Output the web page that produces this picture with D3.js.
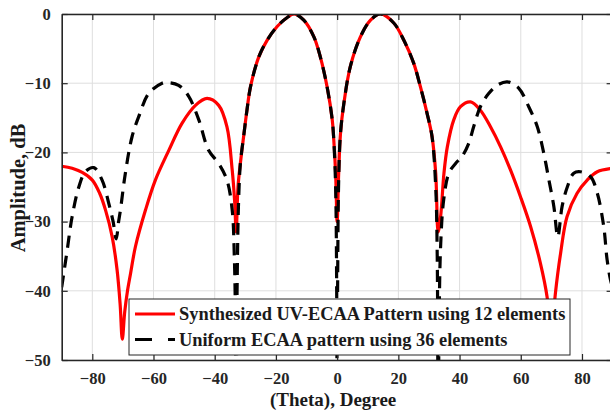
<!DOCTYPE html>
<html>
<head>
<meta charset="utf-8">
<script src="https://cdn.jsdelivr.net/npm/d3@7"></script>
<style>
  html, body { margin: 0; padding: 0; background: #fff; overflow: hidden; }
  svg { display: block; }
  text { font-family: "Liberation Serif", "Times New Roman", serif; font-weight: bold; }
</style>
</head>
<body>
<svg id="chart"></svg>
<script>
// tick values
const xTicks = [-80, -60, -40, -20, 0, 20, 40, 60, 80];
const yTicks = [0, -10, -20, -30, -40, -50];

// Synthesized UV-ECAA pattern, 12 elements: [theta, dB]
const synthesized = [
  [-90, -22.0], [-86.6, -22.3], [-83.3, -22.9], [-80, -24.0], [-77.6, -25.9], [-75.7, -28.3],
  [-73.5, -32.2], [-71.9, -37], [-70.9, -42], [-70.2, -47], [-69.4, -43], [-68.5, -40],
  [-67.5, -37.5], [-65.9, -33.6], [-62.6, -28.3], [-59.4, -24], [-55, -19.7], [-50.7, -15.8],
  [-46.3, -13.2], [-42.5, -12.2], [-38.7, -13.2], [-36, -16.3], [-34.3, -22.5], [-33.5, -27],
  [-33, -31.5], [-32.4, -25], [-31.6, -21.5], [-30.5, -17.5], [-29.5, -14], [-28.3, -10.5],
  [-25.6, -6.2], [-22.9, -3.8], [-19.6, -1.8], [-16.3, -0.5], [-14, 0], [-10.9, -0.9],
  [-7.6, -3.3], [-5.5, -6.2], [-3.3, -10.5], [-1.6, -15.3], [-1.1, -18.2], [-0.5, -23],
  [0, -30], [0.5, -23], [1.1, -17.2], [2.2, -12.9], [4.3, -7.6], [7.6, -3.3], [10.9, -0.9],
  [14.1, 0], [18.5, -1.3], [21.8, -3.8], [25, -7.1], [27.2, -10.5], [29.4, -14.4], [31, -17.7],
  [32.2, -23], [33, -31.5], [33.8, -29.3], [34.9, -23], [36, -19.2], [38.1, -15.3], [40.3, -13.4],
  [43.6, -12.7], [46.8, -13.9], [50.1, -16.3], [53.4, -19.2], [56.6, -22.5], [59.9, -26.4],
  [63.2, -30.7], [66.4, -36], [68.6, -40.9], [69.9, -47], [71.3, -40.4], [73, -34.6], [75.1, -29.3],
  [78.4, -25.9], [81.7, -24], [85, -22.8], [90, -22.3]
];

// Uniform ECAA pattern, 36 elements: [theta, dB]
const uniform = [
  [-90, -39.5], [-88.2, -34.1], [-86.6, -29.3], [-84.4, -25], [-82.3, -22.8], [-79.5, -22.2],
  [-76.8, -24], [-74.6, -27.4], [-73.2, -30], [-72.2, -32.5], [-71.4, -30], [-70.8, -28.3],
  [-69.2, -23], [-67, -17.7], [-64.8, -14.8], [-61.6, -11.5], [-57.2, -10], [-55.6, -9.9],
  [-51.8, -10.3], [-48.5, -11.9], [-45.2, -15.3], [-42, -19.7], [-38.7, -21.6], [-36, -24],
  [-34.3, -28.3], [-33.6, -35], [-33.2, -45], [-33, -60], [-32.7, -40], [-32.2, -27],
  [-31.6, -21.5], [-30.5, -17.5], [-29.5, -14], [-28.3, -10.5], [-25.6, -6.2], [-22.9, -3.8],
  [-19.6, -1.8], [-16.3, -0.5], [-14, 0], [-10.9, -0.9], [-7.6, -3.3], [-5.5, -6.2], [-3.3, -10.5],
  [-1.6, -15.3], [-1.1, -18.2], [-0.5, -25], [-0.15, -40], [0, -60], [0.15, -40], [0.5, -24],
  [1.1, -17.2], [2.2, -12.9], [4.3, -7.6], [7.6, -3.3], [10.9, -0.9], [14.1, 0], [18.5, -1.3],
  [21.8, -3.8], [25, -7.1], [27.2, -10.5], [29.4, -14.4], [31, -17.7], [32.2, -25], [32.7, -35],
  [33, -60], [33.3, -45], [33.8, -33.6], [34.8, -26.9], [36.5, -23], [38.7, -21.6], [40.8, -20.6],
  [43, -18.7], [44.6, -16.3], [46.8, -13.4], [49.5, -11.5], [52.3, -10.3], [55.6, -9.8],
  [59.3, -10.7], [62.6, -13.4], [65.4, -16.3], [67.5, -20.1], [69.2, -24], [70.8, -27.8],
  [72.1, -32.2], [73.5, -27.8], [75.2, -25], [77.3, -23], [79.5, -22.8], [82.8, -23.5],
  [85, -25.9], [87.1, -30.7], [88.2, -35.5], [89.3, -38.4], [90, -39.5]
];

const legendLabels = [
  'Synthesized UV-ECAA Pattern using 12 elements',
  'Uniform ECAA pattern using 36 elements'
];

const width = 610, height = 416;
const margin = { top: 14, right: -2.6, bottom: 56, left: 61.7 };

const svg = d3.select('#chart')
  .attr('width', width)
  .attr('height', height);

const chartWidth = width - margin.left - margin.right;
const chartHeight = height - margin.top - margin.bottom;

const x = d3.scaleLinear().domain([-90, 90]).range([0, chartWidth]);
const y = d3.scaleLinear().domain([-50, 0]).range([chartHeight, 0]);

const g = svg.append('g')
  .attr('transform', `translate(${margin.left},${margin.top})`);

svg.append('defs').append('clipPath')
  .attr('id', 'plot-clip')
  .append('rect')
  .attr('width', chartWidth)
  .attr('height', chartHeight);

// Grid
g.append('g')
  .selectAll('line')
  .data(xTicks)
  .enter().append('line')
  .attr('x1', d => x(d)).attr('x2', d => x(d))
  .attr('y1', 0).attr('y2', chartHeight)
  .attr('stroke', '#dedede').attr('stroke-width', 1);

g.append('g')
  .selectAll('line')
  .data(yTicks)
  .enter().append('line')
  .attr('x1', 0).attr('x2', chartWidth)
  .attr('y1', d => y(d)).attr('y2', d => y(d))
  .attr('stroke', '#dedede').attr('stroke-width', 1);

// Curves
const line = d3.line()
  .x(d => x(d[0]))
  .y(d => y(d[1]))
  .curve(d3.curveCatmullRom.alpha(0.5));

const curves = g.append('g').attr('clip-path', 'url(#plot-clip)');

curves.append('path')
  .datum(synthesized)
  .attr('d', line)
  .attr('fill', 'none')
  .attr('stroke', '#ff0000')
  .attr('stroke-width', 3.2);

curves.append('path')
  .datum(uniform)
  .attr('d', line)
  .attr('fill', 'none')
  .attr('stroke', '#000')
  .attr('stroke-width', 3.2)
  .attr('stroke-dasharray', '12,8');

// Axes (MATLAB style, ticks inside, box)
const axisColor = '#262626';

const xAxis = g.append('g')
  .attr('transform', `translate(0,${chartHeight})`)
  .call(d3.axisBottom(x).tickValues(xTicks).tickSizeInner(-6).tickSizeOuter(0).tickPadding(12));

const yAxis = g.append('g')
  .call(d3.axisLeft(y).tickValues(yTicks).tickSizeInner(-6).tickSizeOuter(0).tickPadding(11));

const xTop = g.append('g')
  .call(d3.axisTop(x).tickValues(xTicks).tickSizeInner(-6).tickSizeOuter(0).tickFormat(''));

const yRight = g.append('g')
  .attr('transform', `translate(${chartWidth},0)`)
  .call(d3.axisRight(y).tickValues(yTicks).tickSizeInner(-6).tickSizeOuter(0).tickFormat(''));

[xAxis, yAxis, xTop, yRight].forEach(a => {
  a.attr('font-family', null).attr('font-size', null);
  a.select('.domain').attr('stroke', axisColor).attr('stroke-width', 1.6);
  a.selectAll('.tick line').attr('stroke', axisColor).attr('stroke-width', 1.2);
  a.selectAll('.tick text')
    .attr('fill', axisColor)
    .style('font-size', '16.5px');
});

// X Axis Label
g.append('text')
  .attr('x', x(0) - 4)
  .attr('y', 392)
  .style('text-anchor', 'middle')
  .style('font-size', '19px')
  .attr('fill', '#1a1a1a')
  .text('(Theta), Degree');

// Y Axis Label
g.append('text')
  .attr('x', -(y(-25)) - 1)
  .attr('y', 24.5 - margin.left)
  .attr('transform', 'rotate(-90)')
  .style('text-anchor', 'middle')
  .style('font-size', '20.5px')
  .attr('fill', '#1a1a1a')
  .text('Amplitude, dB');

// Legend
const legend = svg.append('g').attr('transform', 'translate(129,299)');

legend.append('rect')
  .attr('width', 441)
  .attr('height', 56)
  .attr('fill', '#fff')
  .attr('stroke', axisColor)
  .attr('stroke-width', 1);

const legendStyles = [
  { stroke: '#ff0000', dash: null },
  { stroke: '#000', dash: '17,16' }
];

legendLabels.forEach((label, i) => {
  const row = legend.append('g').attr('transform', `translate(0,${15 + i * 25.5})`);
  row.append('line')
    .attr('x1', 6).attr('x2', 46)
    .attr('y1', 0).attr('y2', 0)
    .attr('stroke', legendStyles[i].stroke)
    .attr('stroke-width', 3.2)
    .attr('stroke-dasharray', legendStyles[i].dash);
  row.append('text')
    .attr('x', 50)
    .attr('y', 6)
    .style('font-size', '18.4px')
    .attr('fill', '#1a1a1a')
    .text(label);
});
</script>
</body>
</html>
